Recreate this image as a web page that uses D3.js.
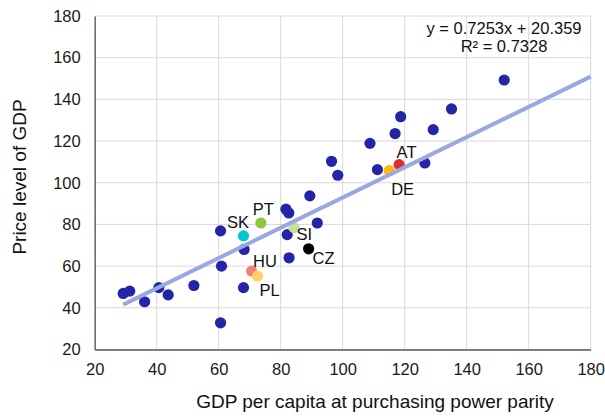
<!DOCTYPE html>
<html>
<head>
<meta charset="utf-8">
<script src="https://cdn.jsdelivr.net/npm/d3@7"></script>
<style>
  html, body { margin: 0; padding: 0; background: #fff; }
  svg { display: block; font-family: "Liberation Sans", Arial, sans-serif; }
</style>
</head>
<body>
<svg id="chart" width="605" height="416"></svg>
<script>
// ---- data ----
const gdpPerCapitaPPP = [29.2, 31.3, 36.1, 40.7, 43.7, 52.0, 60.6, 60.9, 60.6, 68.0, 68.2, 68.0, 70.6, 72.5, 73.6, 81.7, 82.6, 82.1, 82.7, 84.3, 89.0, 89.4, 91.8, 96.4, 98.4, 108.8, 111.2, 115.0, 118.2, 116.9, 118.7, 126.5, 129.2, 135.1, 152.1];
const priceLevelGDP   = [46.9, 48.0, 42.9, 49.7, 46.2, 50.7, 32.8, 60.0, 76.9, 49.7, 68.0, 74.5, 57.6, 55.2, 80.7, 87.3, 85.5, 75.1, 64.0, 78.5, 68.3, 93.7, 80.7, 110.3, 103.6, 118.9, 106.3, 105.8, 108.7, 123.6, 131.7, 109.5, 125.5, 135.4, 149.3];
const countryCodes    = ["", "", "", "", "", "", "", "", "", "", "", "SK", "HU", "PL", "PT", "", "", "", "", "SI", "CZ", "", "", "", "", "", "", "DE", "AT", "", "", "", "", "", ""];
const xTickValues = [20, 40, 60, 80, 100, 120, 140, 160, 180];
const yTickValues = [20, 40, 60, 80, 100, 120, 140, 160, 180];
const trendSlope = 0.7253;
const trendIntercept = 20.359;
const trendR2 = 0.7328;
const xAxisTitle = "GDP per capita at purchasing power parity";
const yAxisTitle = "Price level of GDP";

// ---- styles (not data) ----
const defaultDotColor = "#2424A6";
const highlightColors = {
  SK: "#00C9D3", HU: "#F08376", PL: "#FFD166", PT: "#8DC63F",
  SI: "#C5E09B", CZ: "#000000", DE: "#FFB900", AT: "#D8302B"
};
// label placement relative to the dot (pixels)
const labelOffsets = {
  SK: { dx: 5.5, dy: -8, anchor: "end" },
  PT: { dx: -8, dy: -8, anchor: "start" },
  SI: { dx: 2.5, dy: 12.5, anchor: "start" },
  CZ: { dx: 4, dy: 15, anchor: "start" },
  HU: { dx: 1.5, dy: -4.5, anchor: "start" },
  PL: { dx: 2, dy: 19.5, anchor: "start" },
  AT: { dx: -2.5, dy: -6.5, anchor: "start" },
  DE: { dx: 2, dy: 24, anchor: "start" }
};

const W = 605, H = 416;
const margin = { left: 94.7, right: 14.3, top: 16, bottom: 66.5 };
const svg = d3.select("#chart");

const x = d3.scaleLinear().domain([20, 180]).range([margin.left, W - margin.right]);
const y = d3.scaleLinear().domain([20, 180]).range([H - margin.bottom, margin.top]);

// gridlines
const grid = svg.append("g");
grid.selectAll("line.h").data(yTickValues).join("line")
  .attr("x1", x(20)).attr("x2", x(180))
  .attr("y1", d => y(d)).attr("y2", d => y(d))
  .attr("stroke", "#D9D9D9").attr("stroke-width", 1);
grid.selectAll("line.v").data(xTickValues).join("line")
  .attr("y1", y(20)).attr("y2", y(180))
  .attr("x1", d => x(d)).attr("x2", d => x(d))
  .attr("stroke", "#D9D9D9").attr("stroke-width", 1);

// axes
const xAxis = d3.axisBottom(x).tickValues(xTickValues).tickSize(0).tickPadding(14);
const yAxis = d3.axisLeft(y).tickValues(yTickValues).tickSize(0).tickPadding(14);
const gx = svg.append("g").attr("transform", `translate(0,${y(20)})`).call(xAxis);
const gy = svg.append("g").attr("transform", `translate(${x(20)},0)`).call(yAxis);
[gx, gy].forEach(g => {
  g.select(".domain").attr("stroke", "#595959").attr("stroke-width", 1.3);
  g.selectAll("text").attr("font-size", 16.5).attr("fill", "#1a1a1a")
    .attr("font-family", "Liberation Sans, Arial, sans-serif");
});

// points
const pts = gdpPerCapitaPPP.map((v, i) => ({ x: v, y: priceLevelGDP[i], code: countryCodes[i] }));
svg.append("g").selectAll("circle").data(pts).join("circle")
  .attr("cx", d => x(d.x)).attr("cy", d => y(d.y)).attr("r", 5.6)
  .attr("fill", d => d.code ? highlightColors[d.code] : defaultDotColor);

// trendline (from min x forward to axis max)
const xMin = d3.min(gdpPerCapitaPPP);
svg.append("line")
  .attr("x1", x(xMin)).attr("y1", y(trendSlope * xMin + trendIntercept))
  .attr("x2", x(180)).attr("y2", y(trendSlope * 180 + trendIntercept))
  .attr("stroke", "#99A8E2").attr("stroke-width", 4);

// country labels
svg.append("g").selectAll("text").data(pts.filter(d => d.code)).join("text")
  .attr("x", d => x(d.x) + labelOffsets[d.code].dx)
  .attr("y", d => y(d.y) + labelOffsets[d.code].dy)
  .attr("text-anchor", d => labelOffsets[d.code].anchor)
  .attr("font-size", 16.5).attr("fill", "#111")
  .text(d => d.code);

// equation
const eq = svg.append("text").attr("text-anchor", "middle").attr("font-size", 16.5).attr("fill", "#111");
eq.append("tspan").attr("x", 504).attr("y", 33.5)
  .text(`y = ${trendSlope}x + ${trendIntercept}`);
eq.append("tspan").attr("x", 504).attr("y", 52)
  .text(`R² = ${trendR2}`);

// axis titles
svg.append("text").attr("x", 375).attr("y", 408).attr("text-anchor", "middle")
  .attr("font-size", 19).attr("fill", "#111").text(xAxisTitle);
svg.append("text").attr("transform", "translate(26,177) rotate(-90)")
  .attr("text-anchor", "middle").attr("font-size", 19).attr("fill", "#111").text(yAxisTitle);
</script>
</body>
</html>
